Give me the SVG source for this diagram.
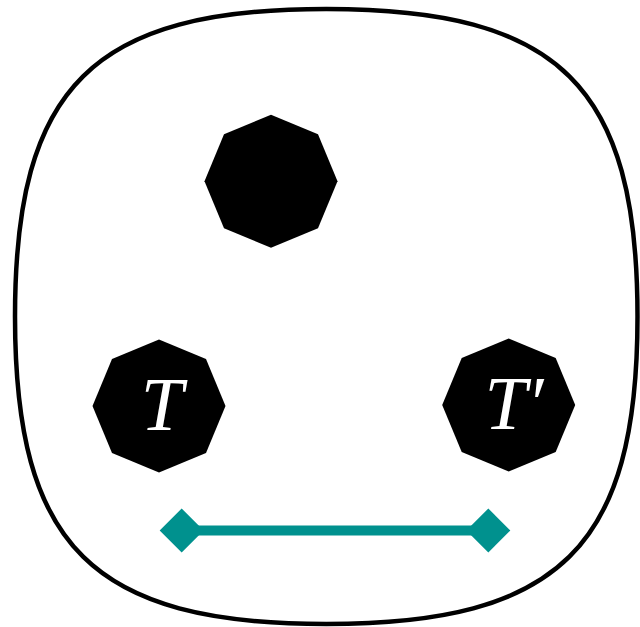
<svg xmlns="http://www.w3.org/2000/svg" xmlns:xlink="http://www.w3.org/1999/xlink" width="640" height="627" viewBox="0 0 640 627">
<style>
.frame{fill:#fff;stroke:#000;stroke-width:4.5}
.oct{fill:#000}
.lbl{fill:#fff;font-family:"Liberation Serif","DejaVu Serif",serif;font-style:italic;font-size:76px;text-anchor:middle}
.edge{stroke:#00918e;stroke-width:10;fill:none}
.dia{fill:#00918e}
</style>
<defs>
<polygon id="octagon" points="0,-66.5 47,-47 66.5,0 47,47 0,66.5 -47,47 -66.5,0 -47,-47"/>
<polygon id="diamond" points="0,-22 22,0 0,22 -22,0"/>
</defs>
<path class="frame" d="M326.25,9 C559.65,9 637.5,85.9 637.5,316.5 C637.5,547.1 559.65,624 326.25,624 C92.85,624 15,547.1 15,316.5 C15,85.9 92.85,9 326.25,9 Z"/>
<g id="node-top"><use xlink:href="#octagon" class="oct" x="271" y="181.3"/></g>
<g id="node-T"><use xlink:href="#octagon" class="oct" x="159" y="406"/><text class="lbl" x="162" y="430">T</text></g>
<g id="node-Tprime"><use xlink:href="#octagon" class="oct" x="508.7" y="405"/><text class="lbl" x="514" y="429">T′</text></g>
<g id="connectors">
<line class="edge" x1="181.7" y1="530.5" x2="488.3" y2="530.5"/>
<use xlink:href="#diamond" class="dia" x="181.7" y="530.5"/>
<use xlink:href="#diamond" class="dia" x="488.3" y="530.5"/>
</g>
</svg>
